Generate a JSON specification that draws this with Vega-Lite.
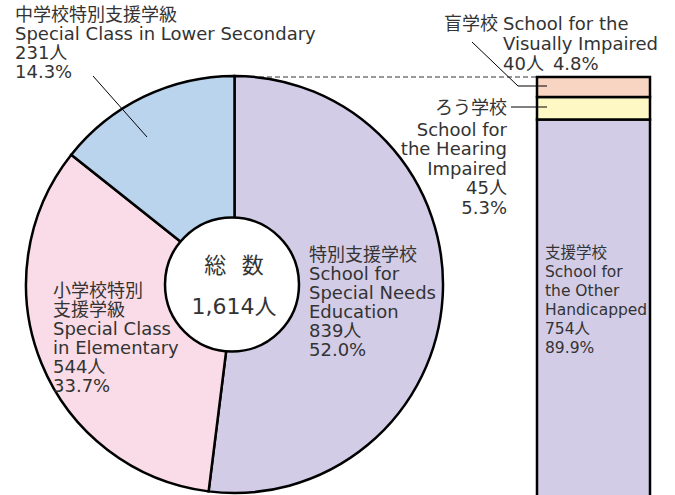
{
  "$schema": "https://vega.github.io/schema/vega-lite/v6.json",
  "width": 675,
  "height": 495,
  "autosize": {"type": "none"},
  "padding": 0,
  "background": "#ffffff",
  "config": {
    "view": {"stroke": null},
    "axis": {"disable": true},
    "legend": {"disable": true},
    "text": {"font": "DejaVu Sans, Noto Sans CJK JP", "fontSize": 18, "color": "#333333", "lineHeight": 19, "lineBreak": "\n", "baseline": "top"}
  },
  "datasets": {
    "pie": [
      {"category": "特別支援学校", "count": 839, "rank": 1},
      {"category": "小学校特別支援学級", "count": 544, "rank": 2},
      {"category": "中学校特別支援学級", "count": 231, "rank": 3}
    ],
    "bar": [
      {"category": "支援学校", "count": 754, "rank": 1},
      {"category": "ろう学校", "count": 45, "rank": 2},
      {"category": "盲学校", "count": 40, "rank": 3}
    ]
  },
  "layer": [
    {
      "data": {"values": [{"link": "特別支援学校"}]},
      "mark": {"type": "rule", "stroke": "#333333", "strokeWidth": 1, "strokeDash": [5, 3]},
      "encoding": {
        "x": {"datum": 235, "type": "quantitative", "scale": {"domain": [0, 675], "nice": false, "zero": false}},
        "x2": {"datum": 537},
        "y": {"datum": 839, "type": "quantitative", "scale": {"domain": [3, 993], "nice": false, "zero": false}},
        "y2": {"datum": 839}
      }
    },
    {
      "data": {"name": "pie"},
      "mark": {"type": "arc", "outerRadius": 208.5, "stroke": "#000000", "strokeWidth": 2.5},
      "encoding": {
        "x": {"datum": 234.5, "type": "quantitative"},
        "y": {"datum": 424, "type": "quantitative"},
        "theta": {"field": "count", "type": "quantitative", "stack": true},
        "order": {"field": "rank", "type": "quantitative"},
        "color": {
          "field": "category",
          "type": "nominal",
          "scale": {
            "domain": ["特別支援学校", "小学校特別支援学級", "中学校特別支援学級", "盲学校", "ろう学校", "支援学校"],
            "range": ["#D3CCE6", "#F9DCE7", "#BAD4EE", "#F8D5C3", "#FDF8C4", "#D3CCE6"]
          }
        }
      }
    },
    {
      "data": {"values": [{"label": "総数", "total": "1,614人"}]},
      "mark": {"type": "arc", "outerRadius": 67, "theta": 0, "theta2": 6.2832, "fill": "#ffffff", "stroke": "#000000", "strokeWidth": 2.5},
      "encoding": {
        "x": {"datum": 232, "type": "quantitative"},
        "y": {"datum": 424, "type": "quantitative"}
      }
    },
    {
      "data": {"values": [{"label": "総\u2002\u2009数", "total": "1,614人"}]},
      "mark": {"type": "text", "fontSize": 22, "align": "center", "baseline": "middle"},
      "encoding": {
        "x": {"datum": 234, "type": "quantitative"},
        "y": {"datum": 461, "type": "quantitative"},
        "text": {"field": "label"}
      }
    },
    {
      "data": {"values": [{"label": "総数", "total": "1,614人"}]},
      "mark": {"type": "text", "fontSize": 22, "align": "center", "baseline": "middle"},
      "encoding": {
        "x": {"datum": 234, "type": "quantitative"},
        "y": {"datum": 379, "type": "quantitative"},
        "text": {"field": "total"}
      }
    },
    {
      "data": {"name": "bar"},
      "transform": [
        {"stack": "count", "groupby": [], "sort": [{"field": "rank", "order": "ascending"}], "as": ["lower", "upper"]}
      ],
      "mark": {"type": "bar", "stroke": "#000000", "strokeWidth": 2.5},
      "encoding": {
        "x": {"datum": 537, "type": "quantitative"},
        "x2": {"datum": 650},
        "y": {"field": "lower", "type": "quantitative"},
        "y2": {"field": "upper"},
        "color": {"field": "category", "type": "nominal"}
      }
    },
    {
      "data": {"values": [{"label": "特別支援学校\nSchool for\nSpecial Needs\nEducation\n839人\n52.0%"}]},
      "mark": {"type": "text", "align": "left"},
      "encoding": {
        "x": {"datum": 309, "type": "quantitative"},
        "y": {"datum": 499, "type": "quantitative"},
        "text": {"field": "label"}
      }
    },
    {
      "data": {"values": [{"label": "小学校特別\n支援学級\nSpecial Class\nin Elementary\n544人\n33.7%"}]},
      "mark": {"type": "text", "align": "left"},
      "encoding": {
        "x": {"datum": 53, "type": "quantitative"},
        "y": {"datum": 427, "type": "quantitative"},
        "text": {"field": "label"}
      }
    },
    {
      "data": {"values": [{"label": "中学校特別支援学級\nSpecial Class in Lower Secondary\n231人\n14.3%"}]},
      "mark": {"type": "text", "align": "left"},
      "encoding": {
        "x": {"datum": 15, "type": "quantitative"},
        "y": {"datum": 979, "type": "quantitative"},
        "text": {"field": "label"}
      }
    },
    {
      "data": {"values": [{"label": "盲学校"}]},
      "mark": {"type": "text", "align": "right"},
      "encoding": {
        "x": {"datum": 498, "type": "quantitative"},
        "y": {"datum": 961, "type": "quantitative"},
        "text": {"field": "label"}
      }
    },
    {
      "data": {"values": [{"label": "School for the\nVisually Impaired\n40人\u20024.8%"}]},
      "mark": {"type": "text", "align": "left", "lineHeight": 20},
      "encoding": {
        "x": {"datum": 503, "type": "quantitative"},
        "y": {"datum": 961, "type": "quantitative"},
        "text": {"field": "label"}
      }
    },
    {
      "data": {"values": [{"label": "ろう学校"}]},
      "mark": {"type": "text", "align": "right"},
      "encoding": {
        "x": {"datum": 507, "type": "quantitative"},
        "y": {"datum": 793, "type": "quantitative"},
        "text": {"field": "label"}
      }
    },
    {
      "data": {"values": [{"label": "School for\nthe Hearing\nImpaired\n45人\n5.3%"}]},
      "mark": {"type": "text", "align": "right", "lineHeight": 19.5},
      "encoding": {
        "x": {"datum": 507, "type": "quantitative"},
        "y": {"datum": 750, "type": "quantitative"},
        "text": {"field": "label"}
      }
    },
    {
      "data": {"values": [{"label": "支援学校\nSchool for\nthe Other\nHandicapped\n754人\n89.9%"}]},
      "mark": {"type": "text", "align": "left", "fontSize": 15.5},
      "encoding": {
        "x": {"datum": 545, "type": "quantitative"},
        "y": {"datum": 501, "type": "quantitative"},
        "text": {"field": "label"}
      }
    },
    {
      "data": {"values": [{"leader": "中学校特別支援学級"}]},
      "mark": {"type": "rule", "stroke": "#000000", "strokeWidth": 1},
      "encoding": {
        "x": {"datum": 93, "type": "quantitative"},
        "x2": {"datum": 147},
        "y": {"datum": 841, "type": "quantitative"},
        "y2": {"datum": 719}
      }
    },
    {
      "data": {"values": [{"leader": "盲学校"}]},
      "mark": {"type": "rule", "stroke": "#000000", "strokeWidth": 1},
      "encoding": {
        "x": {"datum": 472, "type": "quantitative"},
        "x2": {"datum": 518},
        "y": {"datum": 909, "type": "quantitative"},
        "y2": {"datum": 821}
      }
    },
    {
      "data": {"values": [{"leader": "盲学校"}]},
      "mark": {"type": "rule", "stroke": "#000000", "strokeWidth": 1},
      "encoding": {
        "x": {"datum": 518, "type": "quantitative"},
        "x2": {"datum": 547},
        "y": {"datum": 821, "type": "quantitative"},
        "y2": {"datum": 821}
      }
    },
    {
      "data": {"values": [{"leader": "ろう学校"}]},
      "mark": {"type": "rule", "stroke": "#000000", "strokeWidth": 1},
      "encoding": {
        "x": {"datum": 511, "type": "quantitative"},
        "x2": {"datum": 547},
        "y": {"datum": 779, "type": "quantitative"},
        "y2": {"datum": 779}
      }
    }
  ]
}
